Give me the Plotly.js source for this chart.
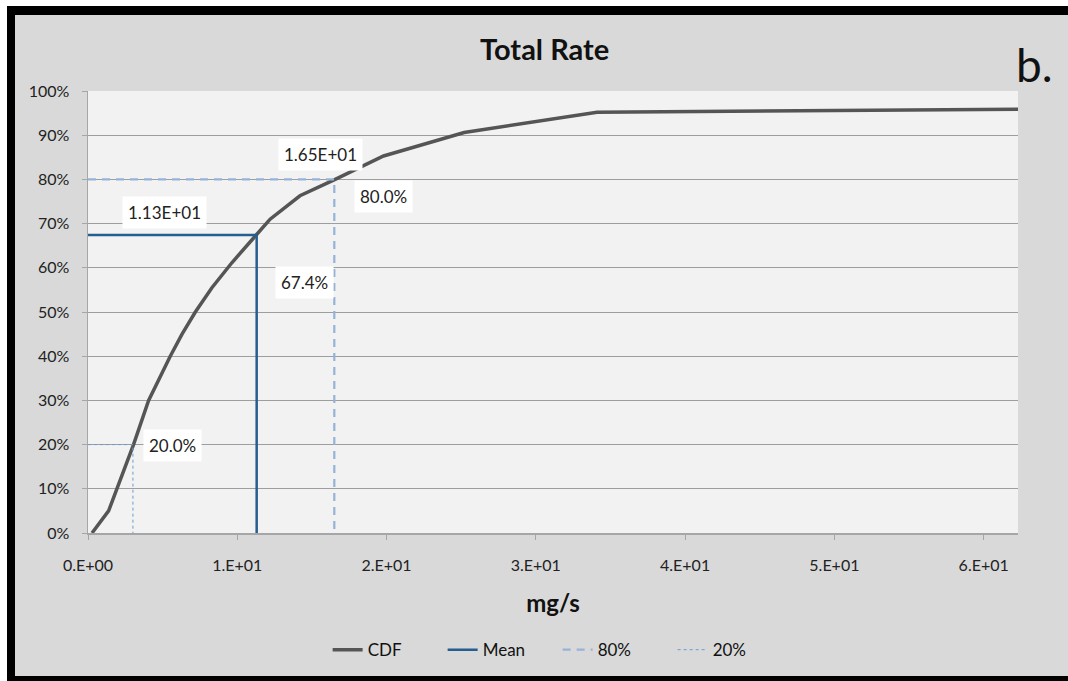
<!DOCTYPE html>
<html>
<head>
<meta charset="utf-8">
<script src="https://cdn.plot.ly/plotly-3.0.1.min.js"></script>
<style>
  html, body { margin: 0; padding: 0; background: #ffffff; width: 1068px; height: 681px; overflow: hidden; }
  #frame { position: absolute; left: 7px; top: 6px; border-left: 8px solid #000; border-top: 9px solid #000; border-bottom: 5px solid #000; width: 1053px; height: 661px; }
  #chart { width: 1053px; height: 661px; }
</style>
</head>
<body>
<div id="frame"><div id="chart"></div></div>
<script>
// CDF of total rate (mg/s)
const cdfX = [0.27, 1.38, 3.05, 4.06, 5.51, 6.3, 7.19, 8.3, 9.65, 11.3, 12.2, 14.2, 16.56, 19.8, 25.2, 34.1, 62.4];
const cdfY = [0, 0.05, 0.20, 0.30, 0.40, 0.45, 0.50, 0.555, 0.612, 0.674, 0.71, 0.763, 0.80, 0.853, 0.906, 0.952, 0.959];

const meanX = 11.3, meanP = 0.674;
const p80X = 16.5, p80P = 0.80;
const p20X = 3.01, p20P = 0.20;

const xTickVals = [0, 10, 20, 30, 40, 50, 60];
const xTickText = ["0.E+00", "1.E+01", "2.E+01", "3.E+01", "4.E+01", "5.E+01", "6.E+01"];
const yTickVals = [0, 0.1, 0.2, 0.3, 0.4, 0.5, 0.6, 0.7, 0.8, 0.9, 1.0];

const labelTexts = { meanX: "1.13E+01", meanP: "67.4%", p80X: "1.65E+01", p80P: "80.0%", p20X: "3.01E+00", p20P: "20.0%" };

const FONT = "Lato, 'Open Sans', sans-serif";

const traces = [
  { x: cdfX, y: cdfY, name: "CDF", mode: "lines", line: { color: "#555555", width: 3.5 } },
  { x: [0, meanX, meanX], y: [meanP, meanP, 0], name: "Mean", mode: "lines", line: { color: "#255e91", width: 2.5 } },
  { x: [0, p80X, p80X], y: [p80P, p80P, 0], name: "80%", mode: "lines", line: { color: "#95b3d7", width: 2.2, dash: "8px,6px" } },
  { x: [0, p20X, p20X], y: [p20P, p20P, 0], name: "20%", mode: "lines", line: { color: "#6a9bd3", width: 1, dash: "3px,3px" } }
];

function lab(text, x, y) {
  return { text: text, x: x, y: y, xref: "x", yref: "y", showarrow: false, bgcolor: "#ffffff",
           borderpad: 5, font: { family: FONT, size: 17, color: "#222222" } };
}

const layout = {
  width: 1053, height: 661,
  paper_bgcolor: "#d9d9d9",
  plot_bgcolor: "#f2f2f2",
  margin: { l: 73, r: 50, t: 76, b: 143, autoexpand: false },
  title: { text: "<b>Total Rate</b>", font: { family: FONT, size: 29, color: "#111111" },
           xref: "container", x: 0.503, xanchor: "center", yref: "container", y: 0.947, yanchor: "middle" },
  xaxis: {
    range: [0, 62.3], tickvals: xTickVals, ticktext: xTickText, automargin: false,
    showgrid: false, zeroline: false, showline: true, linecolor: "#a6a6a6", linewidth: 1.5,
    ticks: "outside", ticklen: 5, tickcolor: "#a6a6a6", ticklabelstandoff: 12,
    tickfont: { family: FONT, size: 16, color: "#222222" },
    title: { text: "<b>mg/s</b>", font: { family: FONT, size: 24, color: "#111111" }, standoff: 22 }
  },
  yaxis: {
    range: [0, 1], tickvals: yTickVals, tickformat: ".0%", automargin: false,
    showgrid: true, gridcolor: "#9e9e9e", gridwidth: 1, zeroline: false,
    showline: true, linecolor: "#a6a6a6", linewidth: 1.5,
    ticks: "outside", ticklen: 5, tickcolor: "#a6a6a6", ticklabelstandoff: 9,
    tickfont: { family: FONT, size: 16, color: "#222222" }
  },
  showlegend: true,
  legend: { orientation: "h", x: 0.505, xanchor: "center", y: -0.265, yanchor: "middle",
            entrywidth: 70, entrywidthmode: "pixels",
            font: { family: FONT, size: 17, color: "#111111" }, bgcolor: "rgba(0,0,0,0)", traceorder: "normal" },
  annotations: [
    lab(labelTexts.p80X, 15.6, 0.857),
    lab(labelTexts.p80P, 19.8, 0.762),
    lab(labelTexts.meanX, 5.1, 0.726),
    lab(labelTexts.meanP, 14.5, 0.567),
    lab(labelTexts.p20X, -1.45, 0.245),
    lab(labelTexts.p20P, 5.65, 0.197),
    { text: "b.", xref: "paper", yref: "paper", x: 1.018, y: 1.059, xanchor: "center", yanchor: "middle",
      showarrow: false, font: { family: FONT, size: 46, color: "#111111" } }
  ]
};

Plotly.newPlot("chart", traces, layout, { displayModeBar: false, staticPlot: true });
</script>
</body>
</html>
